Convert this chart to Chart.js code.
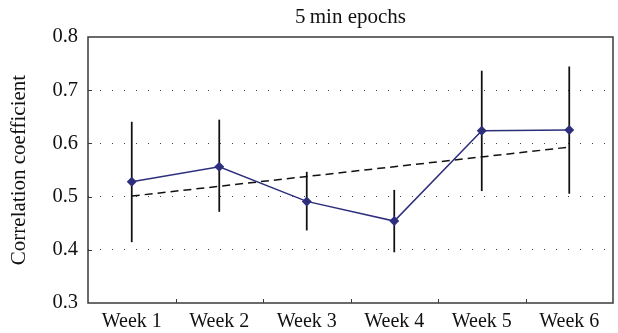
<!DOCTYPE html>
<html><head><meta charset="utf-8">
<script src="https://cdn.jsdelivr.net/npm/chart.js@4.4.1/dist/chart.umd.min.js"></script>
<style>html,body{margin:0;padding:0;background:#fff}#wrap{width:618px;height:333px}</style>
</head><body><div id="wrap"><canvas id="c" width="618" height="333"></canvas></div>
<script>
const categories = ['Week 1','Week 2','Week 3','Week 4','Week 5','Week 6'];
const meanValues = [0.528, 0.556, 0.491, 0.454, 0.624, 0.625];
const errLow = [0.415, 0.472, 0.437, 0.396, 0.511, 0.506];
const errHigh = [0.640, 0.644, 0.546, 0.512, 0.736, 0.744];
const trendValues = [0.501, null, null, null, null, 0.593];
const yTicks = [0.3, 0.4, 0.5, 0.6, 0.7, 0.8];

const serif = '"Liberation Serif", "DejaVu Serif", serif';

const framePlugin = {
  id: 'frame',
  afterDatasetsDraw(chart) {
    const {ctx, chartArea: a, scales} = chart;
    ctx.save();
    ctx.strokeStyle = '#3a3a3a';
    ctx.lineWidth = 1.5;
    ctx.strokeRect(a.left, a.top, a.right - a.left, a.bottom - a.top);
    ctx.lineWidth = 1;
    ctx.beginPath();
    for (let i = 0; i < categories.length - 1; i++) {
      const x = Math.round((scales.x.getPixelForValue(i) + scales.x.getPixelForValue(i + 1)) / 2) + 0.5;
      ctx.moveTo(x, a.bottom);
      ctx.lineTo(x, a.bottom - 4);
    }
    yTicks.slice(1, -1).forEach(v => {
      const y = Math.round(scales.y.getPixelForValue(v)) + 0.5;
      ctx.moveTo(a.left, y);
      ctx.lineTo(a.left + 4, y);
    });
    ctx.stroke();
    ctx.restore();
  }
};

new Chart(document.getElementById('c'), {
  data: {
    labels: categories,
    datasets: [
      {
        type: 'line',
        data: meanValues,
        borderColor: '#2d2f7d',
        backgroundColor: '#2d2f7d',
        borderWidth: 1.5,
        pointStyle: 'rectRot',
        pointRadius: 5,
        pointBorderWidth: 0,
        tension: 0,
        order: 0
      },
      {
        type: 'line',
        data: trendValues,
        spanGaps: true,
        borderColor: '#111',
        borderWidth: 1.5,
        borderDash: [8, 5],
        pointRadius: 0,
        tension: 0,
        order: 1
      },
      {
        type: 'bar',
        data: errLow.map((lo, i) => [lo, errHigh[i]]),
        backgroundColor: '#111',
        borderWidth: 0,
        barThickness: 1.1,
        order: 2
      }
    ]
  },
  options: {
    responsive: false,
    animation: false,
    devicePixelRatio: 1,
    layout: { padding: { left: 0, right: 2, top: 0, bottom: 0 } },
    plugins: {
      legend: { display: false },
      tooltip: { enabled: false },
      title: {
        display: true,
        text: '5\u2009min epochs',
        fullSize: false,
        color: '#111',
        font: { family: serif, size: 21, weight: 'normal', lineHeight: 1.2 },
        padding: { top: 5, bottom: 6.8 }
      }
    },
    scales: {
      x: {
        type: 'category',
        offset: true,
        grid: { display: false, drawTicks: false },
        border: { display: false },
        ticks: { color: '#111', padding: 7, font: { family: serif, size: 20 }, maxRotation: 0 },
        afterFit(s) { s.height = 30; }
      },
      y: {
        min: 0.3,
        max: 0.8,
        afterBuildTicks(s) { s.ticks = yTicks.map(v => ({ value: v })); },
        grid: {
          drawTicks: false,
          color: (c) => (c.tick && (c.tick.value <= 0.3 || c.tick.value >= 0.8)) ? 'rgba(0,0,0,0)' : '#444',
          lineWidth: 1
        },
        border: { display: false, dash: [1, 11] },
        ticks: {
          color: '#111',
          padding: 10,
          font: { family: serif, size: 20.5 },
          callback: (v) => Number(v).toFixed(1)
        },
        title: {
          display: true,
          text: 'Correlation coefficient',
          color: '#111',
          font: { family: serif, size: 21, lineHeight: 1.2 },
          padding: { top: 7, bottom: 0 }
        },
        afterFit(s) { s.width = 88; }
      }
    }
  },
  plugins: [framePlugin]
});
</script>
</body></html>
